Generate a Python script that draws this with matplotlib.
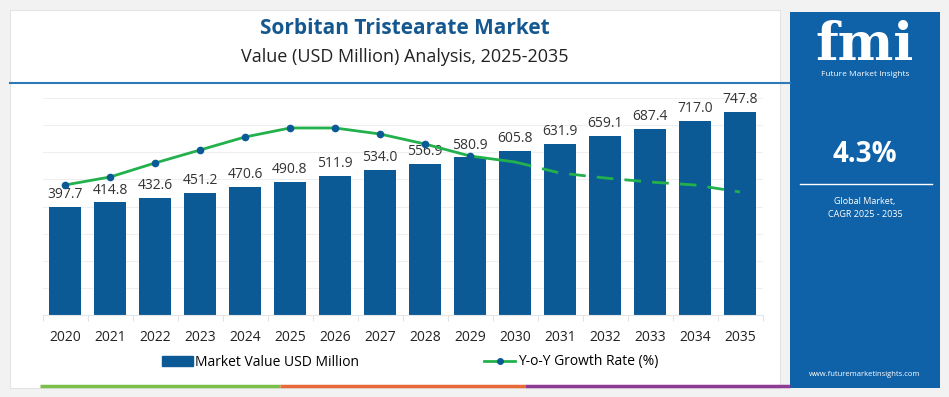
import numpy as np
import matplotlib.pyplot as plt
from matplotlib.patches import Rectangle
from matplotlib.lines import Line2D

years = ['2020', '2021', '2022', '2023', '2024', '2025', '2026', '2027',
         '2028', '2029', '2030', '2031', '2032', '2033', '2034', '2035']
market_value = [397.7, 414.8, 432.6, 451.2, 470.6, 490.8, 511.9, 534.0,
                556.9, 580.9, 605.8, 631.9, 659.1, 687.4, 717.0, 747.8]
# growth line (read from its position on the hidden secondary axis)
growth_rate = [3.45, 3.69, 4.11, 4.50, 4.89, 5.16, 5.16, 4.98,
               4.68, 4.32, 4.14, 3.81, 3.66, 3.54, 3.45, 3.24]
cagr = '4.3%'

bar_color = '#0b5a96'
panel_color = '#0f62a8'
line_color = '#22b14c'

plt.rcParams['font.family'] = ['Open Sans', 'DejaVu Sans']

fig = plt.figure(figsize=(9.49, 3.97), dpi=100)
fig.patch.set_facecolor('#f2f2f2')

W, H = 949, 397
def fx(px): return px / W
def fy(py): return 1 - py / H

# white card + right panel
fig.add_artist(Rectangle((fx(10), fy(388)), fx(780) - fx(10), fy(10) - fy(388),
                         transform=fig.transFigure, facecolor='white', edgecolor='#e4e4e4', lw=0.8, zorder=0))
fig.add_artist(Rectangle((fx(790), fy(388)), fx(940) - fx(790), fy(12) - fy(388),
                         transform=fig.transFigure, facecolor=panel_color, edgecolor='none', zorder=1))
# header separator
fig.add_artist(Line2D([fx(10), fx(790)], [fy(83), fy(83)], transform=fig.transFigure,
                      color='#2f79b8', lw=1.5))
# bottom strip
for x0, x1, c in [(40, 280, '#7cc04b'), (280, 525, '#e8693a'), (525, 790, '#8e3b96')]:
    fig.add_artist(Line2D([fx(x0), fx(x1)], [fy(386), fy(386)], transform=fig.transFigure,
                          color=c, lw=2.5, solid_capstyle='butt'))

fig.text(fx(405), fy(28), 'Sorbitan Tristearate Market', ha='center', va='center',
         fontsize=15, fontweight='bold', color='#15578f')
fig.text(fx(405), fy(57), 'Value (USD Million) Analysis, 2025-2035', ha='center', va='center',
         fontsize=13, color='#222222')

# chart
ax = fig.add_axes([fx(42.5), fy(315), fx(762.5) - fx(42.5), fy(98) - fy(315)])
x = np.arange(len(years))
ax.bar(x, market_value, width=0.71, color=bar_color, zorder=2, label='Market Value USD Million')
for xi, v in zip(x, market_value):
    ax.text(xi, v + 18, f'{v:.1f}', ha='center', va='bottom', fontsize=10, color='#333333', zorder=5)
ax.set_xlim(-0.5, len(years) - 0.5)
ax.set_ylim(0, 800)
ax.set_yticks(np.arange(0, 801, 100))
ax.yaxis.grid(True, color='#efefef', lw=0.8, zorder=0)

ax2 = ax.twinx()
ax2.set_ylim(-0.45, 6.06)
ax2.axis('off')
ax2.plot(x[:11], growth_rate[:11], color=line_color, lw=2, zorder=3)
ax2.plot(x[:10], growth_rate[:10], 'o', color=bar_color, ms=4.5, zorder=4)
ax2.plot(x[10:], growth_rate[10:], color=line_color, lw=2, ls=(0, (6, 4)), zorder=3)

ax.tick_params(axis='y', left=False, right=False, labelleft=False)
ax.set_xticks(x)
ax.set_xticklabels(years, fontsize=10, color='#222222')
ax.tick_params(axis='x', length=0, pad=11)
ax.set_xticks(np.arange(-0.5, len(years), 1), minor=True)
ax.tick_params(axis='x', which='minor', length=4, color='#dddddd')
for s in ['top', 'right', 'left']:
    ax.spines[s].set_visible(False)
ax.spines['bottom'].set_color('#e6e6e6')
ax.set_facecolor('none')

handles = [Rectangle((0, 0), 1, 1, color=bar_color),
           Line2D([0], [0], color=line_color, lw=2, marker='o', mfc=bar_color, mec=bar_color, ms=4)]
fig.legend(handles, ['Market Value USD Million', 'Y-o-Y Growth Rate (%)'], loc='center',
           bbox_to_anchor=(fx(410), fy(362)), ncol=2, frameon=False, fontsize=10,
           columnspacing=9, handlelength=2.2, handletextpad=0.2)

# right panel content
fig.text(fx(865), fy(45), 'fmi', ha='center', va='center', fontsize=38, fontweight='bold',
         color='white', family='DejaVu Serif')
fig.text(fx(865), fy(74), 'Future Market Insights', ha='center', va='center', fontsize=6, color='white')
fig.text(fx(865), fy(155), cagr, ha='center', va='center', fontsize=20, fontweight='bold', color='white')
fig.add_artist(Line2D([fx(800), fx(932)], [fy(184), fy(184)], transform=fig.transFigure,
                      color='white', lw=1))
fig.text(fx(865), fy(208), 'Global Market,\nCAGR 2025 - 2035', ha='center', va='center',
         fontsize=6.5, color='white', linespacing=1.6)
fig.text(fx(865), fy(374), 'www.futuremarketinsights.com', ha='center', va='center',
         fontsize=5.5, color='white')

fig.savefig('out.png', dpi=100, facecolor=fig.get_facecolor())
